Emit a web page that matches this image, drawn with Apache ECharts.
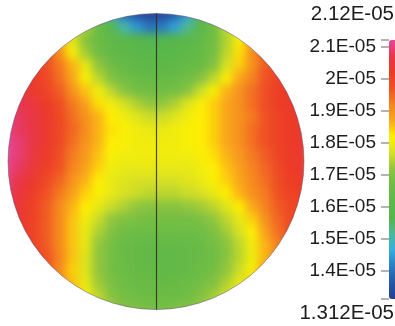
<!DOCTYPE html>
<html>
<head>
<meta charset="utf-8">
<script src="https://cdn.jsdelivr.net/npm/echarts@6/dist/echarts.min.js"></script>
<style>
  html, body { margin: 0; padding: 0; background: #fff; }
  .layer { position: absolute; left: 0; top: 0; width: 395px; height: 326px; }
  #map { filter: blur(4px); }
</style>
</head>
<body>
<div id="map" class="layer"></div>
<div id="overlay" class="layer"></div>
<script>
const _ = null;

// surface values, in units of 1E-05, rows from top to bottom
const surfaceRows = [
  [_,_,_,_,_,_,_, 1.58,1.48,1.40,1.35,1.32,1.33,1.37,1.45,1.55,1.63, _,_,_,_,_,_,_],
  [_,_,_,_,_, 1.80,1.74,1.65,1.58,1.50,1.44,1.40,1.41,1.45,1.52,1.60,1.67,1.75,1.82, _,_,_,_,_],
  [_,_,_,_, 1.86,1.78,1.71,1.66,1.62,1.59,1.57,1.56,1.56,1.57,1.59,1.63,1.67,1.74,1.81,1.88, _,_,_,_],
  [_,_,_, 1.97,1.90,1.81,1.73,1.67,1.63,1.61,1.60,1.59,1.59,1.60,1.61,1.64,1.68,1.75,1.83,1.90,1.96, _,_,_],
  [_,_, 2.02,1.98,1.93,1.86,1.79,1.72,1.67,1.64,1.62,1.61,1.61,1.62,1.64,1.66,1.70,1.77,1.84,1.90,1.96,2.00, _,_],
  [_, 2.04,2.02,1.99,1.94,1.87,1.81,1.75,1.70,1.67,1.65,1.64,1.64,1.65,1.67,1.70,1.75,1.81,1.87,1.92,1.97,2.00,2.02, _],
  [_, 2.06,2.03,2.00,1.96,1.90,1.85,1.80,1.75,1.71,1.68,1.67,1.67,1.68,1.71,1.76,1.81,1.86,1.90,1.94,1.98,2.01,2.02, _],
  [2.09,2.07,2.05,2.02,1.98,1.93,1.88,1.83,1.80,1.77,1.74,1.72,1.72,1.74,1.78,1.81,1.84,1.87,1.90,1.94,1.98,2.01,2.03,2.03],
  [2.10,2.08,2.06,2.03,1.99,1.94,1.90,1.86,1.82,1.80,1.78,1.76,1.76,1.78,1.80,1.82,1.84,1.87,1.90,1.93,1.97,2.00,2.02,2.03],
  [2.10,2.08,2.06,2.03,1.99,1.95,1.91,1.86,1.83,1.81,1.80,1.79,1.79,1.80,1.81,1.82,1.84,1.87,1.90,1.94,1.97,2.00,2.02,2.03],
  [2.11,2.09,2.06,2.03,1.99,1.94,1.90,1.86,1.82,1.81,1.80,1.80,1.80,1.80,1.81,1.82,1.84,1.87,1.90,1.94,1.97,2.00,2.02,2.03],
  [2.11,2.09,2.05,2.02,1.98,1.93,1.89,1.85,1.81,1.80,1.80,1.80,1.80,1.80,1.80,1.81,1.83,1.86,1.89,1.93,1.96,2.00,2.02,2.03],
  [2.10,2.08,2.04,2.01,1.97,1.92,1.88,1.84,1.80,1.79,1.79,1.79,1.79,1.79,1.79,1.80,1.82,1.85,1.88,1.92,1.95,1.99,2.02,2.03],
  [2.09,2.06,2.03,1.99,1.95,1.90,1.86,1.82,1.79,1.78,1.77,1.77,1.77,1.77,1.78,1.79,1.81,1.84,1.87,1.91,1.94,1.98,2.01,2.02],
  [2.08,2.05,2.01,1.97,1.93,1.88,1.84,1.81,1.79,1.77,1.76,1.75,1.75,1.75,1.76,1.77,1.79,1.82,1.86,1.90,1.93,1.97,2.00,2.01],
  [2.07,2.04,2.00,1.96,1.91,1.86,1.82,1.79,1.76,1.74,1.72,1.71,1.71,1.71,1.72,1.73,1.75,1.78,1.82,1.87,1.92,1.96,1.99,2.00],
  [2.05,2.03,2.00,1.96,1.91,1.85,1.80,1.76,1.72,1.70,1.69,1.68,1.68,1.68,1.68,1.69,1.72,1.75,1.79,1.84,1.90,1.95,1.99,2.00],
  [_, 2.03,2.00,1.96,1.91,1.85,1.79,1.74,1.70,1.67,1.66,1.66,1.66,1.66,1.66,1.67,1.69,1.73,1.77,1.82,1.88,1.94,1.98, _],
  [_, 2.03,2.00,1.96,1.91,1.85,1.79,1.72,1.68,1.65,1.64,1.63,1.63,1.63,1.64,1.65,1.68,1.71,1.75,1.80,1.86,1.92,1.97, _],
  [_,_, 2.01,1.97,1.92,1.85,1.78,1.72,1.68,1.65,1.64,1.63,1.63,1.63,1.64,1.65,1.67,1.71,1.75,1.80,1.86,1.92, _,_],
  [_,_,_, 1.97,1.91,1.84,1.78,1.72,1.68,1.66,1.64,1.64,1.63,1.63,1.64,1.66,1.68,1.72,1.76,1.81,1.87, _,_,_],
  [_,_,_,_, 1.91,1.85,1.79,1.73,1.69,1.67,1.65,1.65,1.64,1.65,1.66,1.68,1.70,1.74,1.79,1.84, _,_,_,_],
  [_,_,_,_,_, 1.87,1.81,1.75,1.71,1.68,1.67,1.66,1.66,1.66,1.67,1.70,1.73,1.77,1.82, _,_,_,_,_],
  [_,_,_,_,_,_,_, 1.78,1.73,1.70,1.69,1.68,1.68,1.69,1.70,1.72,1.76, _,_,_,_,_,_,_]
];

const scaleMin = 1.312;
const scaleMax = 2.12;
const tickValues = [1.4, 1.5, 1.6, 1.7, 1.8, 1.9, 2.0, 2.1];

// evenly spaced stops from scaleMin (dark blue) to scaleMax (pink)
const palette = [
  '#263f8f', '#2456a8', '#2a7cc4', '#33aee0', '#4db89a', '#55b54a',
  '#5fb848', '#6cbc44', '#8cc43f', '#d4df26', '#fff200', '#f9a81b',
  '#f5861f', '#ef5223', '#ec3a26', '#e8354a', '#e5479f'
];

const cells = [];
surfaceRows.forEach((row, j) => {
  row.forEach((v, i) => {
    if (v !== null) cells.push([i, j, v]);
  });
});

const fmt = v => v + 'E-05';
const font = '"Liberation Sans Narrow", "Liberation Sans", Arial, sans-serif';
const disc = { cx: 156, cy: 161.5, r: 148 };
const reach = disc.r * 1.04;   // cell grid runs a little past the rim, the rim is masked

const colorScale = extra => Object.assign({
  type: 'continuous',
  min: scaleMin,
  max: scaleMax,
  calculable: false,
  padding: 0,
  text: null,
  inRange: { color: palette }
}, extra);

// layer 1: the surface cells (softened with a css blur)
const mapChart = echarts.init(document.getElementById('map'));
mapChart.setOption({
  animation: false,
  grid: { left: disc.cx - reach, top: disc.cy - reach, width: reach * 2, height: reach * 2 },
  xAxis: { type: 'category', data: surfaceRows[0].map((v, i) => i), show: false },
  yAxis: { type: 'category', data: surfaceRows.map((r, j) => j), inverse: true, show: false },
  visualMap: colorScale({ show: false, seriesIndex: 0 }),
  series: [{
    type: 'heatmap',
    data: cells,
    itemStyle: { borderWidth: 0 }
  }]
});

// layer 2: rim mask, centre line, colour bar and its labels
const overlay = echarts.init(document.getElementById('overlay'));
overlay.setOption({
  animation: false,
  grid: [
    { left: disc.cx - disc.r, top: disc.cy - disc.r, width: disc.r * 2, height: disc.r * 2 },
    { left: 389, top: 40, width: 8, height: 259 }
  ],
  xAxis: [
    { type: 'value', gridIndex: 0, min: -1, max: 1, show: false },
    { type: 'value', gridIndex: 1, min: 0, max: 1, show: false }
  ],
  yAxis: [
    { type: 'value', gridIndex: 0, min: -1, max: 1, show: false },
    {
      type: 'value', gridIndex: 1, min: scaleMin, max: scaleMax, z: 10,
      axisLine: { show: false },
      splitLine: { show: false },
      axisTick: {
        show: true, length: 8, customValues: [scaleMin].concat(tickValues, [scaleMax]),
        lineStyle: { color: '#9a9a9a', width: 1.5 }
      },
      axisLabel: {
        customValues: tickValues, formatter: fmt, margin: 13,
        fontSize: 19, color: '#1c1c1c', fontFamily: font
      }
    }
  ],
  visualMap: colorScale({
    seriesIndex: [],
    left: 389,
    top: 40,
    itemWidth: 8,
    itemHeight: 259
  }),
  series: [{
    type: 'line',
    xAxisIndex: 0,
    yAxisIndex: 0,
    data: [],
    markLine: {
      silent: true,
      symbol: 'none',
      label: { show: false },
      lineStyle: { color: 'rgba(45,45,35,0.85)', width: 1.2, type: 'solid' },
      data: [{ xAxis: 0 }]
    }
  }],
  graphic: [
    {
      type: 'ring', silent: true, z: 3,
      shape: { cx: disc.cx, cy: disc.cy, r: disc.r + 30, r0: disc.r },
      style: { fill: '#fff' }
    },
    {
      type: 'circle', silent: true, z: 3,
      shape: { cx: disc.cx, cy: disc.cy, r: disc.r },
      style: { fill: null, stroke: 'rgba(90,70,110,0.5)', lineWidth: 1 }
    },
    {
      type: 'text', right: 1, top: 4, z: 11,
      style: { text: fmt(scaleMax), font: '20.5px ' + font, fill: '#1c1c1c' }
    },
    {
      type: 'text', right: 1, top: 303, z: 11,
      style: { text: fmt(scaleMin), font: '20.5px ' + font, fill: '#1c1c1c' }
    }
  ]
});
</script>
</body>
</html>
